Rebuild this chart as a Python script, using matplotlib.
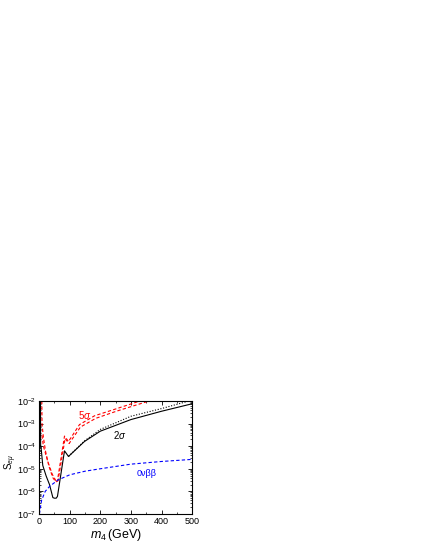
import numpy as np
import matplotlib
matplotlib.use('Agg')
import matplotlib.pyplot as plt
from matplotlib.ticker import LogFormatterMathtext, MultipleLocator, LogLocator

plt.rcParams['font.family'] = ['Liberation Sans', 'DejaVu Sans']
plt.rcParams['mathtext.fontset'] = 'custom'
plt.rcParams['mathtext.rm'] = 'Liberation Sans'
plt.rcParams['mathtext.it'] = 'Liberation Sans:italic'
plt.rcParams['mathtext.sf'] = 'Liberation Sans'

# 2 sigma (solid black)
m_2s = [4.5, 5, 6, 12, 23, 34, 45, 50, 56, 60, 83, 96, 148, 200, 252, 300, 400, 500]
s_2s = [1e-2, 1e-4, 1e-4, 1.4e-5, 4.8e-6, 2e-6, 5.3e-7, 5e-7, 5e-7, 6e-7, 6.2e-5, 3.5e-5,
        1.6e-4, 4.6e-4, 8.5e-4, 1.5e-3, 3.5e-3, 7.5e-3]

# 2 sigma variant (dotted black)
m_2d = [96, 148, 200, 252, 300, 400, 490]
s_2d = [3.5e-5, 1.7e-4, 5.5e-4, 1.1e-3, 2.1e-3, 4.6e-3, 1e-2]

# 5 sigma (two dashed red)
m_5a = [9, 9.5, 14, 21, 32, 45, 55, 60, 83, 96, 132, 181, 252, 330]
s_5a = [1e-2, 1e-3, 2.5e-4, 6e-5, 1.3e-5, 4e-6, 2.6e-6, 3e-6, 2.8e-4, 1.6e-4,
        9e-4, 2.2e-3, 4.5e-3, 1e-2]
m_5b = [9.5, 14, 28, 43, 57, 62, 85, 98, 135, 185, 255, 360]
s_5b = [3e-4, 1e-4, 2.2e-5, 5.7e-6, 2.6e-6, 3e-6, 2.2e-4, 1.3e-4,
        7e-4, 1.7e-3, 3.6e-3, 1e-2]

# 0 nu beta beta (dashed blue)
m_0n = [1, 8, 20, 35, 62, 100, 150, 200, 300, 400, 500]
s_0n = [1e-7, 4e-7, 1e-6, 1.7e-6, 3.2e-6, 5.4e-6, 7.8e-6, 1e-5, 1.6e-5, 2.1e-5, 2.6e-5]

fig = plt.figure(figsize=(4.25, 5.5), dpi=100)
ax = fig.add_axes([0.092, 0.0655, 0.36, 0.2055])

ax.plot(m_2s, s_2s, color='black', lw=0.8)
ax.plot(m_2d, s_2d, color='black', lw=0.8, ls=(0, (1, 1.5)))
ax.plot(m_5a, s_5a, color='red', lw=0.8, ls=(0, (3, 2)))
ax.plot(m_5b, s_5b, color='red', lw=0.8, ls=(0, (3, 2)))
ax.plot(m_0n, s_0n, color='blue', lw=0.8, ls=(0, (3, 2)))

ax.set_yscale('log')
ax.set_xlim(0, 500)
ax.set_ylim(1e-7, 1e-2)

ax.text(149, 2.5e-3, r'5$\sigma$', color='red', fontsize=7, ha='center', va='center')
ax.text(264, 3e-4, r'2$\sigma$', color='black', fontsize=7, ha='center', va='center')
ax.text(351, 6.3e-6, '0νββ', color='blue', fontsize=6.5, ha='center', va='center')

ax.xaxis.set_major_locator(MultipleLocator(100))
ax.xaxis.set_minor_locator(MultipleLocator(50))
ax.yaxis.set_major_locator(LogLocator(base=10))
ax.yaxis.set_minor_locator(LogLocator(base=10, subs=np.arange(2, 10)))
ax.yaxis.set_major_formatter(LogFormatterMathtext())
ax.tick_params(which='both', direction='in', top=True, right=True, labelsize=6.5)
ax.tick_params(which='major', length=3, width=0.6, pad=2)
ax.tick_params(which='minor', length=1.5, width=0.5)
for sp in ax.spines.values():
    sp.set_linewidth(0.8)

ax.set_xlabel(r'$m_4\,$(GeV)', fontsize=9, labelpad=1)
ax.set_ylabel(r'S$_{e\mu}$', fontsize=7)
ax.yaxis.set_label_coords(-0.13, 0.46)

fig.savefig('out.png', dpi=100)
